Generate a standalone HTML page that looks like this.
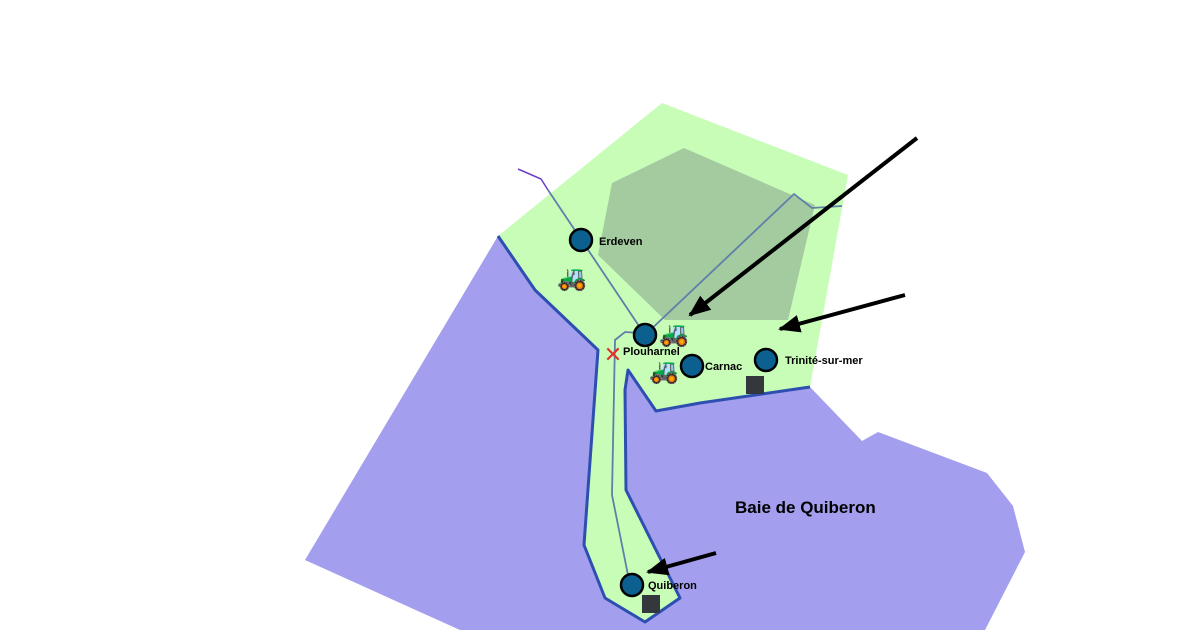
<!DOCTYPE html>
<html><head><meta charset="utf-8"><style>
html,body{margin:0;padding:0;background:#fff;}
svg{display:block;font-family:"Liberation Sans",sans-serif;}
</style></head><body>
<svg width="1200" height="630" viewBox="0 0 1200 630" xmlns="http://www.w3.org/2000/svg">
<defs>
<marker id="a2" markerWidth="22" markerHeight="18" refX="20" refY="9" orient="auto" markerUnits="userSpaceOnUse"><path d="M0,0 L22,9 L0,18 z" fill="#000"/></marker></defs>
<polygon points="498,236 305,560 460,630 985,630 1025,552 1013,506 987,473 878,432 862,441 810,387 600,350" fill="#a39eee"/>
<polygon points="498,236 662,103 848,175 810,387 700,403 656,411 628,370 625,390 626,490 680,598 645,622 605,598 584,545 598,350 535,290" fill="#c8fdb8"/>
<polygon points="612,183 684,148 815,205 788,320 665,320 598,255" fill="#a4cba0"/>
<polyline points="498,236 535,290 598,350 584,545 605,598 645,622 680,598 626,490 625,390 628,370 656,411 700,403 810,387" fill="none" stroke="#2d4fb0" stroke-width="3" stroke-linejoin="round"/>
<polyline points="518,169 541,179 548,190" fill="none" stroke="#6a3fc8" stroke-width="1.5"/>
<polyline points="548,190 645,335 794,194 812,208 842,206" fill="none" stroke="#5f7fa8" stroke-width="1.8"/>
<polyline points="640,333 625,332 615,340 612,495 628,575" fill="none" stroke="#5f7fa8" stroke-width="1.8"/>
<text x="613" y="362" font-size="22" fill="#e03030" text-anchor="middle">✕</text>
<g font-size="24"><text x="557" y="286">🚜</text><text x="659" y="342">🚜</text><text x="649" y="379">🚜</text></g>
<rect x="746" y="376" width="18" height="18" fill="#34383c"/>
<rect x="642" y="595" width="18" height="18" fill="#34383c"/>
<g fill="#0b6090" stroke="#000" stroke-width="2.5">
<circle cx="581" cy="240" r="11"/><circle cx="645" cy="335" r="11"/><circle cx="692" cy="366" r="11"/><circle cx="766" cy="360" r="11"/><circle cx="632" cy="585" r="11"/></g>
<g font-size="11" fill="#000" font-weight="bold">
<text x="599" y="245">Erdeven</text><text x="623" y="355">Plouharnel</text><text x="705" y="370">Carnac</text><text x="785" y="364">Trinité-sur-mer</text><text x="648" y="589">Quiberon</text></g>
<g stroke="#000" stroke-width="4" fill="none">
<line x1="917" y1="138" x2="690" y2="315" marker-end="url(#a2)"/>
<line x1="905" y1="295" x2="780" y2="329" marker-end="url(#a2)"/>
<line x1="716" y1="553" x2="648" y2="572" marker-end="url(#a2)"/></g>
<text x="735" y="513" font-size="17" font-weight="bold" fill="#000">Baie de Quiberon</text>
</svg>
</body></html>
